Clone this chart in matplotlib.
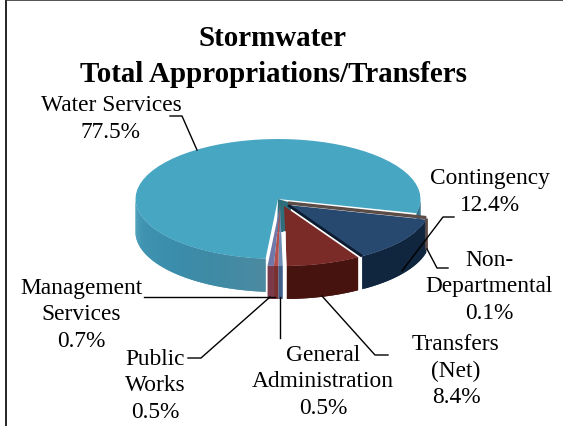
import numpy as np
import matplotlib
matplotlib.use("Agg")
import matplotlib.pyplot as plt
from matplotlib.colors import to_rgb
from matplotlib.patches import Polygon

plt.rcParams['font.family'] = ['Liberation Serif', 'DejaVu Serif']

categories = ["Management Services", "Public Works", "General Administration",
              "Transfers (Net)", "Contingency", "Non-Departmental", "Water Services"]
values = [0.7, 0.5, 0.5, 8.4, 12.4, 0.1, 77.5]

top_colors = ["#6f78a8", "#b5504c", "#6f8db5", "#7a2b28", "#28496f", "#5c4c48", "#47a6c2"]
side_colors = ["#7b3a4a", "#7b3030", "#3f5f8a", "#47130f", "#10263f", "#5c4c48", "#3d93b0"]

# wedge centres on the page
centers = [(280, 207), (280, 207), (280, 207), (284, 207), (288, 206), (288, 204), (278, 200)]

RX, RY = 142.5, 60.0
DEPTH = 33.0
START = -95.0

# colours along the outer wall of the big slice, left to right
water_wall = ["#4a9fbc", "#3f93b0", "#3a8dab", "#3f8aa5", "#4c8a9f"]

fig = plt.figure(figsize=(5.63, 4.27), dpi=100)
ax = fig.add_axes([0, 0, 1, 1])
ax.set_xlim(0, 563)
ax.set_ylim(427, 0)
ax.axis("off")

# page frame
ax.plot([5.5, 5.5], [427, 1], color="black", lw=1.2, zorder=1)
ax.plot([5.5, 563], [1, 1], color="#333333", lw=1.2, zorder=1)


def rim(cx, cy, a0, a1, n=60):
    t = np.radians(np.linspace(a0, a1, n))
    return cx + RX * np.cos(t), cy - RY * np.sin(t)


def wall_colour(i, a):
    if categories[i] != "Water Services":
        return side_colors[i]
    if a < 0:
        return "#2c6f8a"
    pos = np.clip((a - 180) / 85.0, 0, 1) * (len(water_wall) - 1)
    low = min(int(pos), len(water_wall) - 2)
    c0, c1 = np.array(to_rgb(water_wall[low])), np.array(to_rgb(water_wall[low + 1]))
    return tuple(c0 + (c1 - c0) * (pos - low))


def draw_slice(i, a0, a1, z):
    cx, cy = centers[i]
    xs, ys = rim(cx, cy, a0, a1)
    top = np.column_stack([np.r_[cx, xs], np.r_[cy, ys]])

    # outer wall only where it faces the front
    walls = []
    if a0 < 0:
        walls.append((a0, min(a1, 0)))
    if a1 > 180:
        walls.append((max(a0, 180), a1))
    for w0, w1 in walls:
        steps = max(int(w1 - w0), 1)
        grid = np.linspace(w0, w1, steps + 1)
        for k in range(steps):
            # each strip runs over into the next so no seams show
            x, y = rim(cx, cy, grid[k], min(grid[k] + 2.0 * (w1 - w0) / steps, w1), 4)
            quad = np.column_stack([np.r_[x, x[::-1]], np.r_[y, y[::-1] + DEPTH]])
            ax.add_patch(Polygon(quad, closed=True, fc=wall_colour(i, grid[k]), ec="none", zorder=z))

    ax.add_patch(Polygon(top, closed=True, fc=top_colors[i], ec="none", zorder=z + 0.5))


shares = np.array(values) / np.sum(values) * 360.0
stops = START + np.r_[0, np.cumsum(shares)]

draw_order = [6, 5, 4, 3, 2, 1, 0]
for z, i in enumerate(draw_order):
    draw_slice(i, stops[i], stops[i + 1], 2 + z)

# dark notch at the point of the big slice
ax.add_patch(Polygon([(278, 200), (292, 204), (287, 233), (277, 233)], closed=True,
                     fc="#2f6f7c", ec="none", zorder=2.6))

# cut face between contingency and transfers
bx, by = rim(centers[4][0], centers[4][1], stops[4], stops[4], 1)
ax.plot([centers[4][0], bx[0]], [centers[4][1], by[0]], color="#0b1c30", lw=2.0, zorder=7.5,
        solid_capstyle="butt")

# thin non-departmental slice seen edge on, and its wall
nx, ny = rim(centers[5][0], centers[5][1], stops[5], stops[5], 1)
ax.plot([centers[5][0], nx[0]], [centers[5][1], ny[0]], color="#5c4c48", lw=2.4, zorder=7.6,
        solid_capstyle="butt")
ax.plot([nx[0], nx[0]], [ny[0], ny[0] + DEPTH - 2], color="#5c4c48", lw=2.0, zorder=7.6,
        solid_capstyle="butt")

# white gap beside the small slices
ax.plot([284.2, 284.2], [233, 297], color="white", lw=1.8, zorder=12)

leaders = [
    ([170, 182, 197], [117, 117, 151]),
    ([144, 275], [298, 298]),
    ([188, 201, 270], [359, 359, 298]),
    ([280, 280], [298, 339]),
    ([322, 375, 388], [297, 356, 356]),
    ([454, 443, 402], [218, 218, 272]),
    ([448, 437, 427], [269, 269, 250]),
]
for xs, ys in leaders:
    ax.plot(xs, ys, color="black", lw=1.0, zorder=20)

labels = [
    ("Water Services\n77.5%", 111, 119),
    ("Contingency\n12.4%", 490, 192),
    ("Non-\nDepartmental\n0.1%", 489, 287),
    ("Transfers\n(Net)\n8.4%", 456, 371),
    ("General\nAdministration\n0.5%", 323, 382),
    ("Public\nWorks\n0.5%", 155, 386),
    ("Management\nServices\n0.7%", 81, 315),
]
for text, x, y in labels:
    ax.text(x, y, text, ha="center", va="center", fontsize=16.8, linespacing=1.33,
            color="black", zorder=21)

ax.text(273, 56.5, "Stormwater\nTotal Appropriations/Transfers", ha="center", va="center",
        fontsize=20.9, fontweight="bold", linespacing=1.45, zorder=21)

fig.savefig("out.png", dpi=100)
